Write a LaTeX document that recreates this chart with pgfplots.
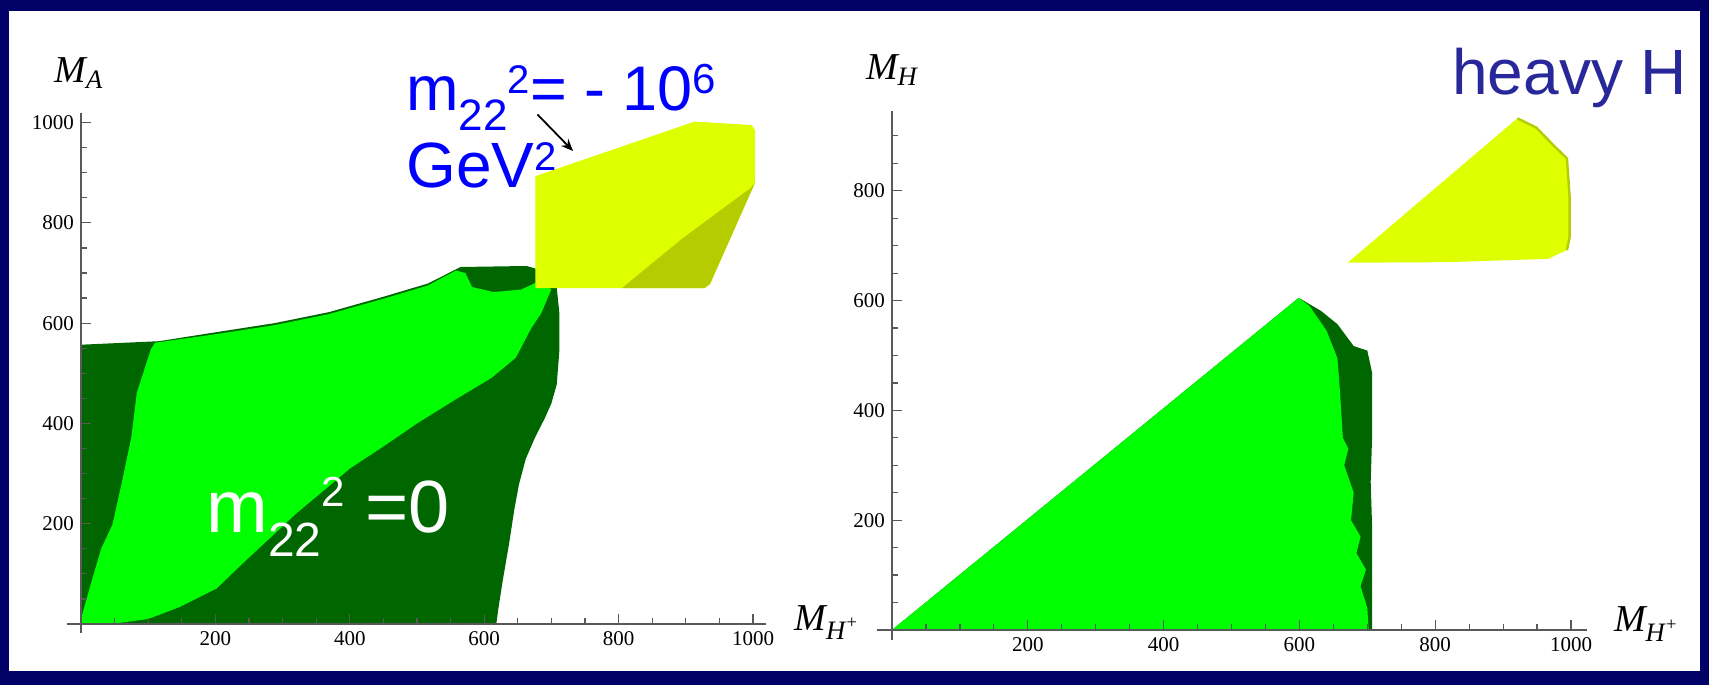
\documentclass[border=0pt]{standalone}
\usepackage{fontspec}
\setmainfont{Liberation Serif}
\newfontfamily\arial{Liberation Sans}
\usepackage{pgfplots}
\pgfplotsset{compat=1.18}
\usetikzlibrary{arrows.meta}
\definecolor{navyb}{RGB}{0,0,102}
\definecolor{dkgreen}{RGB}{0,102,0}
\definecolor{ltgreen}{RGB}{0,255,0}
\definecolor{yel}{RGB}{221,255,0}
\definecolor{oliv}{RGB}{181,204,0}
\definecolor{mblue}{RGB}{0,0,255}
\definecolor{hblue}{RGB}{40,40,155}
\pgfplotsset{mstyle/.style={
  axis lines=middle,
  axis line style={-, draw=black!65, line width=0.6pt},
  tick style={draw=black!65, line width=0.6pt},
  tick align=inside, major tick length=5pt, minor tick length=3pt,
  xtick={200,400,600,800,1000},
  minor xtick={50,100,...,1000},
  tick label style={font=\fontsize{10.5}{12}\selectfont, text=black},
  /pgf/number format/assume math mode=true,
  /pgf/number format/set thousands separator={},
  scaled ticks=false,
  clip=false, axis on top,
  anchor=origin,
}}
\begin{document}
\begin{tikzpicture}
\useasboundingbox (0,0) rectangle (854.5pt,342.5pt);
\fill[navyb] (0,0) rectangle (854.5pt,342.5pt);
\fill[white] (4.5pt,7pt) rectangle (850pt,337pt);

% ---------------- left panel ----------------
\begin{axis}[mstyle,
  at={(40.5pt,30.5pt)},
  x=0.336pt, y=0.2507pt,
  xmin=-21, xmax=1019, ymin=-18, ymax=1019,
  ytick={200,400,600,800,1000},
  minor ytick={50,100,...,1000},
  xlabel={\itshape M\textsubscript{H\textsuperscript{+}}},
  ylabel={\itshape M\textsubscript{A}},
  every axis x label/.style={at={(axis description cs:1.031,0.0058)}, anchor=base west, font=\fontsize{19}{21}\selectfont},
  every axis y label/.style={at={(axis description cs:0.0173,1.077)}, anchor=center, font=\fontsize{19}{21}\selectfont},
]
% m22^2 = 0 : dark green envelope
\addplot[fill=dkgreen, draw=none] coordinates {
 (0,0) (0,557) (116,564) (206,583) (288,600) (369,622) (451,653) (516,679)
 (565,712) (663,714) (676,709) (700,685) (708,670) (712,618) (712,548) (708,478)
 (700,440) (690,410) (676,373) (662,330) (652,280) (645,230) (637,160) (628,90) (621,30) (618,0)} -- cycle;
% light green band
\addplot[fill=ltgreen, draw=none] coordinates {
 (0,10) (14,77) (30,150) (47,199) (62,290) (75,373) (83,461) (104,548)
 (110,561) (206,579) (288,596) (369,618) (451,649) (516,675) (558,705)
 (572,700) (582,672) (614,662) (655,667) (676,680) (700,668) (685,620)
 (670,590) (647,531) (610,490) (560,450) (500,400) (451,355) (400,310)
 (369,275) (320,220) (288,180) (240,120) (202,71) (147,34) (100,10) (45,0) (0,0)} -- cycle;
% m22^2 = -10^6 : yellow
\addplot[fill=yel, draw=none] coordinates {
 (676,670) (676,893) (913,1002) (998,995) (1003,985) (1003,880) (936,678) (928,670)} -- cycle;
\addplot[fill=oliv, draw=none] coordinates {
 (805,670) (896,770) (996,869) (1003,880) (936,678) (928,670)} -- cycle;
\end{axis}

% ---------------- right panel ----------------
\begin{axis}[mstyle,
  at={(446pt,27.5pt)},
  x=0.3395pt, y=0.2745pt,
  xmin=-22.5, xmax=1024, ymin=-18, ymax=945,
  ytick={200,400,600,800},
  minor ytick={50,100,...,900},
  xlabel={\itshape M\textsubscript{H\textsuperscript{+}}},
  ylabel={\itshape M\textsubscript{H}},
  every axis x label/.style={at={(axis description cs:1.0277,0.015)}, anchor=base west, font=\fontsize{19}{21}\selectfont},
  every axis y label/.style={at={(axis description cs:0.0215,1.078)}, anchor=center, font=\fontsize{19}{21}\selectfont},
]
\addplot[fill=dkgreen, draw=none] coordinates {
 (0,0) (599,605) (632,581) (656,557) (680,517) (700,509) (707,469) (707,350)
 (705,270) (707,191) (707,111) (707,0)} -- cycle;
\addplot[fill=ltgreen, draw=none] coordinates {
 (0,0) (599,605) (615,590) (640,545) (656,495) (660,430) (664,350) (672,330)
 (666,300) (680,250) (676,200) (690,170) (684,140) (698,110) (690,80)
 (700,40) (702,0)} -- cycle;
\addplot[fill=yel, draw=none] coordinates {
 (671,669) (921,932) (949,915) (974,883) (994,859) (998,788) (998,716)
 (994,692) (966,676) (819,670)} -- cycle;
\addplot[draw=oliv, line width=1.2pt] coordinates {
 (921,932) (949,915) (974,883) (994,859) (998,788) (998,716) (994,692)};
\end{axis}

% ---------------- annotations ----------------
\node[anchor=base west, inner sep=0, text=mblue, font=\arial\fontsize{31.5}{32}\selectfont]
  at (203pt,287pt) {m\raisebox{-10pt}{\fontsize{22}{22}\selectfont 22}\raisebox{8.5pt}{\fontsize{20}{20}\selectfont 2}= - 10\raisebox{8.5pt}{\fontsize{21}{21}\selectfont 6}};
\node[anchor=base west, inner sep=0, text=mblue, font=\arial\fontsize{32}{32}\selectfont]
  at (203pt,248.5pt) {GeV\raisebox{8.7pt}{\fontsize{20}{20}\selectfont 2}};
\draw[-{Stealth[length=6pt,width=5pt]}, line width=0.9pt] (268.75pt,285.25pt) -- (286.5pt,267pt);
\node[anchor=base west, inner sep=0, text=white, font=\arial\fontsize{37}{37}\selectfont]
  at (103pt,76pt) {m\raisebox{-12pt}{\fontsize{24}{24}\selectfont 22}\raisebox{13pt}{\fontsize{21}{21}\selectfont 2} =0};
\node[anchor=base west, inner sep=0, text=hblue, font=\arial\fontsize{32}{32}\selectfont]
  at (726pt,295pt) {heavy H};
\end{tikzpicture}
\end{document}
